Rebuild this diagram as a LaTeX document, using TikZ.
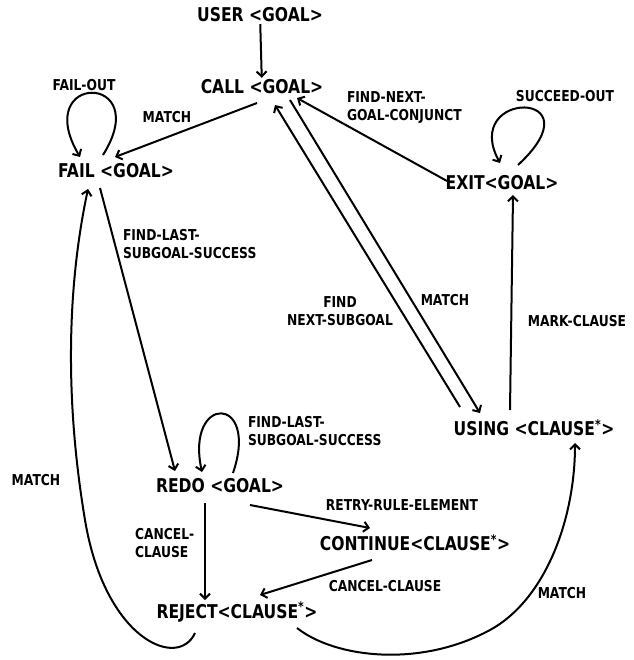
\documentclass[tikz,border=0pt]{standalone}
\usepackage{fontspec}
\usetikzlibrary{arrows.meta}
\newfontfamily\handfont[FakeStretch=0.82]{DejaVu Sans}
\begin{document}
\begin{tikzpicture}[x=1pt, y=-1pt, line width=2pt, >={Straight Barb[length=5pt, width=10pt]},
    state/.style={font=\handfont\bfseries\fontsize{19}{19}\selectfont, inner sep=1pt},
    lbl/.style={font=\handfont\bfseries\fontsize{15}{18}\selectfont, inner sep=0pt}]%
    \useasboundingbox (0,0) rectangle (633,660);
    % states
    \node[state] (user) at (260, 15) {USER <GOAL>};
    \node[state] (call) at (262, 87) {CALL <GOAL>};
    \node[state] (fail) at (116, 171) {FAIL <GOAL>};
    \node[state] (exit) at (502, 183) {EXIT<GOAL>};
    \node[state] (using) at (534, 428) {USING <CLAUSE\textsuperscript{*}>};
    \node[state] (redo) at (220, 486) {REDO <GOAL>};
    \node[state] (cont) at (415, 543) {CONTINUE<CLAUSE\textsuperscript{*}>};
    \node[state] (rej) at (237, 612) {REJECT<CLAUSE\textsuperscript{*}>};

    % labels
    \node[lbl] (lfailout) at (84, 85) {FAIL-OUT};
    \node[lbl] (lmatcha) at (167, 117) {MATCH};
    \node[lbl, anchor=west, align=left] (lnextconj) at (346, 108)
      {FIND-NEXT-\\GOAL-CONJUNCT};
    \node[lbl] (lsucceed) at (565, 96) {SUCCEED-OUT};
    \node[lbl, anchor=west, align=left] (llasta) at (122, 244)
      {FIND-LAST-\\SUBGOAL-SUCCESS};
    \node[lbl, align=center] (lnextsub) at (340, 311) {FIND\\NEXT-SUBGOAL};
    \node[lbl] (lmatchb) at (445, 300) {MATCH};
    \node[lbl] (lmark) at (577, 321) {MARK-CLAUSE};
    \node[lbl] (lmatchc) at (36, 480) {MATCH};
    \node[lbl, anchor=west, align=left] (llastb) at (247, 431)
      {FIND-LAST-\\SUBGOAL-SUCCESS};
    \node[lbl] (lretry) at (402, 505) {RETRY-RULE-ELEMENT};
    \node[lbl, anchor=west, align=left] (lcancela) at (134, 543)
      {CANCEL-\\CLAUSE};
    \node[lbl] (lcancelb) at (385, 586) {CANCEL-CLAUSE};
    \node[lbl] (lmatchd) at (562, 593) {MATCH};

    % transitions
    \draw[->] (user) -- (call);
    \draw[->] ([shift={(-5,16)}]call.center) -- ([shift={(-1,-14)}]fail.center);
    \draw[->] ([shift={(-13,-16)}]fail.center) .. controls (155, 72) and (30, 72)
      .. ([shift={(-36,-14)}]fail.center);
    \draw[->] ([shift={(-55,-2)}]exit.center) -- ([shift={(35,11)}]call.center);
    \draw[->] ([shift={(16,-18)}]exit.center) .. controls (600, 89) and (460, 89)
      .. ([shift={(-2,-20)}]exit.center);
    \draw[->] ([shift={(-74,-21)}]using.center) -- ([shift={(13,18)}]call.center);
    \draw[->] ([shift={(28,13)}]call.center) -- ([shift={(-54,-15)}]using.center);
    \draw[->] ([shift={(-24,-18)}]using.center) -- ([shift={(11,12)}]exit.center);
    \draw[->] ([shift={(-16,17)}]fail.center) -- ([shift={(-45,-15)}]redo.center);
    \draw[->] ([shift={(-42,21)}]rej.center) .. controls (178, 670) and (105, 640)
      .. (85, 520) .. controls (75, 460) and (58, 330) .. ([shift={(-28,18)}]fail.center);
    \draw[->] ([shift={(13,-13)}]redo.center) .. controls (260, 394) and (185, 394)
      .. ([shift={(-18,-14)}]redo.center);
    \draw[->] ([shift={(30,19)}]redo.center) -- ([shift={(-45,-15)}]cont.center);
    \draw[->] ([shift={(-15,17)}]redo.center) -- ([shift={(-32,-12)}]rej.center);
    \draw[->] ([shift={(-43,17)}]cont.center) -- ([shift={(23,-17)}]rej.center);
    \draw[->] ([shift={(60,16)}]rej.center) .. controls (335, 658) and (420, 668)
      .. (490, 630) .. controls (545, 600) and (575, 520) .. ([shift={(41,15)}]using.center);
  \end{tikzpicture}
\end{document}
